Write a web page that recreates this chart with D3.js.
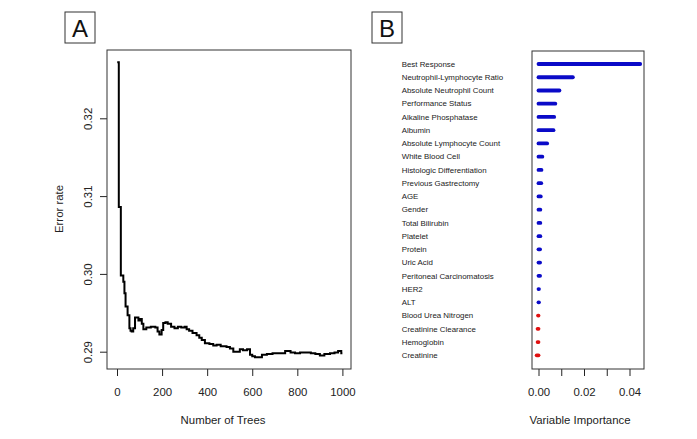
<!DOCTYPE html>
<html><head><meta charset="utf-8">
<script src="https://cdn.jsdelivr.net/npm/d3@7/dist/d3.min.js"></script>
<style>body{margin:0;background:#fff}text{font-family:"Liberation Sans",Arial,sans-serif;fill:#222}</style>
</head><body><svg id="c" width="697" height="439"></svg>
<script>
// Panel A: OOB error rate vs number of trees
const trees = [1,8,17,28,33,38,47,55,60,65,72,80,88,95,102,110,117,130,150,170,180,188,198,205,215,225,240,255,270,285,300,309,320,335,353,365,376,390,410,427,442,460,486,501,516,532,545,559,577,590,600,612,643,665,690,720,746,770,790,812,834,860,880,900,920,945,965,981,995,1000];
const errorRate = [0.3272,0.3086,0.2998,0.2990,0.2975,0.2958,0.2947,0.2930,0.2927,0.2926,0.2930,0.2944,0.2944,0.2940,0.2942,0.2936,0.2929,0.2931,0.2932,0.2931,0.2926,0.2922,0.2928,0.2937,0.2938,0.2936,0.2932,0.2930,0.2932,0.2931,0.2932,0.2929,0.2927,0.2924,0.2921,0.2918,0.2915,0.2911,0.2910,0.2908,0.2909,0.2907,0.2906,0.2904,0.2900,0.2900,0.2903,0.2902,0.2903,0.2896,0.2894,0.2893,0.2896,0.2897,0.2898,0.2898,0.2901,0.2899,0.2898,0.2899,0.2899,0.2898,0.2897,0.2895,0.2897,0.2898,0.2899,0.2901,0.2898,0.2898];
const xTicksA = [0,200,400,600,800,1000];
const yTicksA = [0.29,0.30,0.31,0.32];

// Panel B: variable importance
const variables = ["Best Response","Neutrophil-Lymphocyte Ratio","Absolute Neutrophil Count","Performance Status","Alkaline Phosphatase","Albumin","Absolute Lymphocyte Count","White Blood Cell","Histologic Differentiation","Previous Gastrectomy","AGE","Gender","Total Bilirubin","Platelet","Protein","Uric Acid","Peritoneal Carcinomatosis","HER2","ALT","Blood Urea Nitrogen","Creatinine Clearance","Hemoglobin","Creatinine"];
const importance = [0.0447,0.0151,0.0092,0.0074,0.0069,0.0066,0.0038,0.0017,0.0013,0.0012,0.0010,0.0008,0.0008,0.0008,0.0007,0.0007,0.0007,0.0002,0.0002,-0.0002,-0.0004,-0.0004,-0.0008];
const xTicksB = [0,0.01,0.02,0.03,0.04];
const xLabelsB = [0,0.02,0.04];

const svg = d3.select("#c");
svg.append("rect").attr("width",697).attr("height",439).attr("fill","#fff");
const ink = "#222";

// ---------- Panel A ----------
const boxA = {l:107,t:50,r:351,b:369};
const xA = d3.scaleLinear().domain([0,1000]).range([117,342.4]);
const yA = d3.scaleLinear().domain([0.29,0.32]).range([351.7,118.3]);

const gAx = svg.append("g").attr("transform",`translate(0,${boxA.b})`)
  .call(d3.axisBottom(xA).tickValues(xTicksA).tickSize(7).tickPadding(12).tickFormat(d3.format("d")));
gAx.select(".domain").remove();
gAx.selectAll("line").attr("stroke",ink);
gAx.selectAll("text").attr("font-size","11.4px").attr("fill",ink).style("font-family","Liberation Sans, Arial");

const gAy = svg.append("g").attr("transform",`translate(${boxA.l},0)`)
  .call(d3.axisLeft(yA).tickValues(yTicksA).tickSize(7).tickFormat(d3.format(".2f")));
gAy.select(".domain").remove();
gAy.selectAll("line").attr("stroke",ink);
gAy.selectAll("text").attr("font-size","11.4px").attr("fill",ink).style("font-family","Liberation Sans, Arial")
  .attr("text-anchor","middle").attr("x",null)
  .attr("transform",`translate(-19,0) rotate(-90)`).attr("dy","0.35em");

svg.append("rect").attr("x",boxA.l).attr("y",boxA.t).attr("width",boxA.r-boxA.l).attr("height",boxA.b-boxA.t)
  .attr("fill","none").attr("stroke","#333").attr("stroke-width",1);

const pts = trees.map((t,i)=>[t,errorRate[i]]);
svg.append("path").datum(pts)
  .attr("d",d3.line().x(d=>xA(d[0])).y(d=>yA(d[1])).curve(d3.curveStepAfter))
  .attr("fill","none").attr("stroke","#000").attr("stroke-width",2);

svg.append("text").attr("x",223).attr("y",424).attr("text-anchor","middle").attr("font-size","11.4px").text("Number of Trees");
svg.append("text").attr("transform","translate(63,209) rotate(-90)").attr("text-anchor","middle").attr("font-size","11.4px").text("Error rate");

// panel letter boxes
function letter(x,y,s){
  svg.append("rect").attr("x",x).attr("y",y).attr("width",30).attr("height",31).attr("fill","#fff").attr("stroke","#333").attr("stroke-width",1);
  svg.append("text").attr("x",x+15).attr("y",y+25).attr("text-anchor","middle").attr("font-size","24px").style("fill","#111").text(s);
}
letter(65,12,"A");
letter(372,12,"B");

// ---------- Panel B ----------
const boxB = {l:532,t:51,r:644,b:369};
const xB = d3.scaleLinear().domain([0,0.04]).range([538.5,629.5]);
const yB = d3.scalePoint().domain(variables).range([64,355.3]);

const gBx = svg.append("g").attr("transform",`translate(0,${boxB.b})`)
  .call(d3.axisBottom(xB).tickValues(xTicksB).tickSize(7).tickPadding(12)
    .tickFormat(d=>xLabelsB.some(v=>Math.abs(v-d)<1e-9)?d3.format(".2f")(d):""));
gBx.select(".domain").remove();
gBx.selectAll("line").attr("stroke",ink);
gBx.selectAll("text").attr("font-size","11.4px").attr("fill",ink).style("font-family","Liberation Sans, Arial");

svg.append("rect").attr("x",boxB.l).attr("y",boxB.t).attr("width",boxB.r-boxB.l).attr("height",boxB.b-boxB.t)
  .attr("fill","none").attr("stroke","#333").attr("stroke-width",1);

svg.append("g").selectAll("line").data(variables).join("line")
  .attr("x1",xB(0)).attr("x2",(d,i)=>xB(importance[i]))
  .attr("y1",d=>yB(d)).attr("y2",d=>yB(d))
  .attr("stroke",(d,i)=>importance[i]>=0?"#0a0ac8":"#e01010")
  .attr("stroke-width",3.8).attr("stroke-linecap","round");

svg.append("g").selectAll("text").data(variables).join("text")
  .attr("x",401.7).attr("y",d=>yB(d)).attr("dy","0.35em").attr("font-size","7.9px").text(d=>d);

svg.append("text").attr("x",580).attr("y",424).attr("text-anchor","middle").attr("font-size","11.4px").text("Variable Importance");
</script></body></html>
